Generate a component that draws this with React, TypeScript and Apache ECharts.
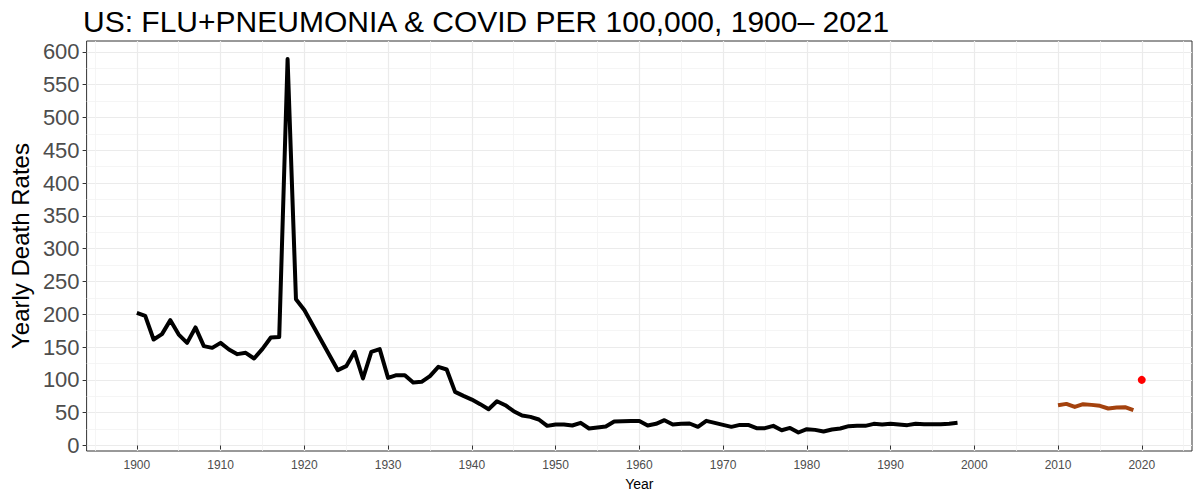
import React, { useEffect, useRef } from "react";
import * as echarts from "echarts";

const fluYears: number[] = [
  1900, 1901, 1902, 1903, 1904, 1905, 1906, 1907, 1908, 1909,
  1910, 1911, 1912, 1913, 1914, 1915, 1916, 1917, 1918, 1919,
  1920, 1924, 1925, 1926, 1927, 1928, 1929,
  1930, 1931, 1932, 1933, 1934, 1935, 1936, 1937, 1938, 1939,
  1940, 1941, 1942, 1943, 1944, 1945, 1946, 1947, 1948, 1949,
  1950, 1951, 1952, 1953, 1954, 1955, 1956, 1957, 1958, 1959,
  1960, 1961, 1962, 1963, 1964, 1965, 1966, 1967, 1968, 1969,
  1970, 1971, 1972, 1973, 1974, 1975, 1976, 1977, 1978, 1979,
  1980, 1981, 1982, 1983, 1984, 1985, 1986, 1987, 1988, 1989,
  1990, 1991, 1992, 1993, 1994, 1995, 1996, 1997, 1998,
];
const fluRates: number[] = [
  202, 197.6, 161.5, 169.7, 191, 169, 156.4, 179.9, 151.4, 148.8,
  156.4, 146.3, 139.2, 141.2, 132.6, 147.3, 164.5, 165.5, 588.9, 223,
  206.5, 114.8, 120.9, 142.7, 102.1, 142.7, 146.8,
  103, 107.2, 107.2, 96, 97, 105.8, 119.8, 115.8, 81.7, 75.6,
  70, 63, 55.3, 67.5, 61.4, 52.3, 45.7, 43.6, 39.6, 29.9,
  32, 32, 30.5, 34.5, 25.9, 27.4, 29, 36.6, 37, 37.5,
  37.5, 30.5, 33, 38.6, 32, 33, 33.5, 28.4, 37.5, 34.5,
  31.4, 28.4, 31.4, 31.4, 26.4, 26.4, 29.9, 23.3, 26.8, 19.8,
  24.8, 23.8, 21.3, 24.4, 25.9, 29.4, 29.9, 29.9, 33, 32,
  33, 32, 31, 33, 32.5, 32.5, 32.5, 33, 34.5,
];

const recentYears: number[] = [2010, 2011, 2012, 2013, 2014, 2015, 2016, 2017, 2018, 2019];
const recentRates: number[] = [61.4, 63.4, 58.8, 63, 61.9, 60.4, 56.4, 57.9, 58.4, 53.8];

const covidYears: number[] = [2020];
const covidRates: number[] = [100];

const xMajorTicks: number[] = [1900, 1910, 1920, 1930, 1940, 1950, 1960, 1970, 1980, 1990, 2000, 2010, 2020];
const xMinorTicks: number[] = [1895, 1905, 1915, 1925, 1935, 1945, 1955, 1965, 1975, 1985, 1995, 2005, 2015, 2025];
const yMajorTicks: number[] = [0, 50, 100, 150, 200, 250, 300, 350, 400, 450, 500, 550, 600];
const yMinorTicks: number[] = [25, 75, 125, 175, 225, 275, 325, 375, 425, 475, 525, 575];

const FONT = "Liberation Sans";

export default function App() {
  const ref = useRef<HTMLDivElement>(null);
  useEffect(() => {
    if (!ref.current) return;
    const chart = echarts.init(ref.current, undefined, { renderer: "svg" });
    const xMin = 1894;
    const xMax = 2026;
    const yMin = -8.4;
    const yMax = 616.4;
    chart.setOption({
      animation: false,
      backgroundColor: "#ffffff",
      textStyle: { fontFamily: FONT },
      title: {
        text: "US: FLU+PNEUMONIA & COVID PER 100,000, 1900\u2013 2021",
        left: 78,
        top: 1,
        textStyle: { fontFamily: FONT, fontSize: 30, fontWeight: "normal", color: "#000000" },
      },
      grid: {
        left: 83,
        right: 8,
        top: 41,
        bottom: 49,
        show: true,
        borderColor: "#333333",
        borderWidth: 1,
        backgroundColor: "transparent",
      },
      xAxis: [
        {
          type: "value",
          min: xMin,
          max: xMax,
          position: "bottom",
          name: "Year",
          nameLocation: "middle",
          nameGap: 26,
          nameTextStyle: { fontFamily: FONT, fontSize: 14, color: "#000000" },
          axisLine: { show: false },
          axisTick: { show: true, length: 4, inside: false, customValues: xMajorTicks, lineStyle: { color: "#333333", width: 1 } },
          axisLabel: { show: true, customValues: xMajorTicks, fontFamily: FONT, fontSize: 12, color: "#4D4D4D", margin: 8, formatter: (v: number) => String(v) },
          splitLine: { show: true, lineStyle: { color: "#EBEBEB", width: 1.2 } },
        },
        {
          type: "value",
          min: xMin,
          max: xMax,
          position: "bottom",
          axisLine: { show: false },
          axisTick: { show: false, customValues: xMinorTicks },
          axisLabel: { show: false },
          splitLine: { show: true, lineStyle: { color: "#F3F3F3", width: 0.8 } },
        },
      ],
      yAxis: [
        {
          type: "value",
          min: yMin,
          max: yMax,
          position: "left",
          name: "Yearly Death Rates",
          nameLocation: "middle",
          nameRotate: 90,
          nameGap: 52,
          nameTextStyle: { fontFamily: FONT, fontSize: 24, color: "#000000" },
          axisLine: { show: false },
          axisTick: { show: true, length: 4, inside: false, customValues: yMajorTicks, lineStyle: { color: "#333333", width: 1 } },
          axisLabel: { show: true, customValues: yMajorTicks, fontFamily: FONT, fontSize: 22, color: "#4D4D4D", margin: 7 },
          splitLine: { show: true, lineStyle: { color: "#EBEBEB", width: 1.2 } },
        },
        {
          type: "value",
          min: yMin,
          max: yMax,
          position: "left",
          axisLine: { show: false },
          axisTick: { show: false, customValues: yMinorTicks },
          axisLabel: { show: false },
          splitLine: { show: true, lineStyle: { color: "#F3F3F3", width: 0.8 } },
        },
      ],
      series: [
        {
          type: "line",
          xAxisIndex: 0,
          yAxisIndex: 0,
          data: fluYears.map((y, i) => [y, fluRates[i]]),
          showSymbol: false,
          symbol: "none",
          lineStyle: { color: "#000000", width: 4, join: "round", cap: "butt" },
          z: 3,
        },
        {
          type: "line",
          xAxisIndex: 0,
          yAxisIndex: 0,
          data: recentYears.map((y, i) => [y, recentRates[i]]),
          showSymbol: false,
          symbol: "none",
          lineStyle: { color: "#A4420E", width: 4, join: "round", cap: "butt" },
          z: 3,
        },
        {
          type: "scatter",
          xAxisIndex: 0,
          yAxisIndex: 0,
          data: covidYears.map((y, i) => [y, covidRates[i]]),
          symbol: "circle",
          symbolSize: 8,
          itemStyle: { color: "#FF0000", opacity: 1 },
          z: 4,
        },
      ],
    });
    return () => chart.dispose();
  }, []);
  return (
    <div
      ref={ref}
      style={{ position: "absolute", left: 0, top: 0, width: 1200, height: 500 }}
    />
  );
}
